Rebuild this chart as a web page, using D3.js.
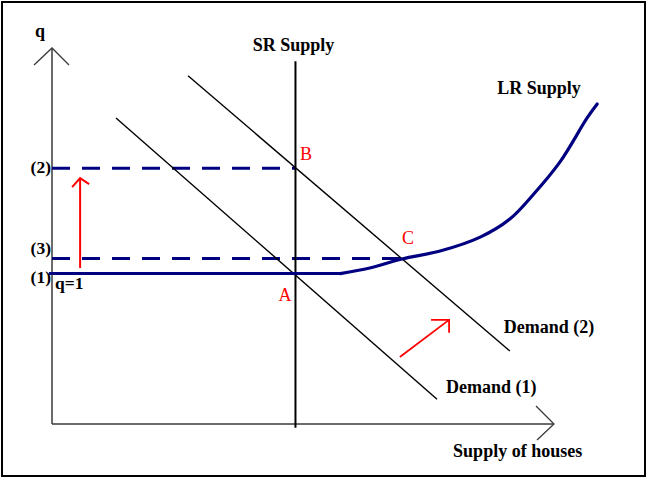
<!DOCTYPE html>
<html>
<head>
<meta charset="utf-8">
<script src="https://cdn.jsdelivr.net/npm/d3@7"></script>
<style>
  html, body { margin: 0; padding: 0; background: #fff; }
  svg { display: block; }
  text { font-family: "Liberation Serif", "Times New Roman", serif; }
</style>
</head>
<body>
<svg id="chart" width="647" height="478"></svg>
<script>
// ---- data (diagram units: x = quantity of houses 0..100, y = q 0..100) ----
const qLevels = [
  { label: "(1)", value: 40 },
  { label: "(3)", value: 44 },
  { label: "(2)", value: 68 }
];
const srSupplyX = 48.5;
const srSupplyRange = [-1, 96.5];
const demand1 = [[12.75, 81.4], [76.7, 6.6]];
const demand2 = [[27.1, 92.6], [91.2, 19.4]];
const lrSupplyFlat = [[-0.6, 40], [57.4, 40]];
const lrSupplyCurve = [[57.4, 40], [63.3, 41.5], [69.7, 43.9], [77.3, 46.0], [85.3, 49.7],
                       [91.2, 54.5], [95.8, 60.9], [101.2, 69.7], [106.6, 81.4], [108.6, 85.1]];
const dashed2 = [[0, 68], [48.5, 68]];
const dashed3 = [[0, 44], [69.7, 44]];
const arrowUp = [[5.6, 41.5], [5.6, 65.4]];
const arrowShift = [[69.3, 17.8], [79.1, 27.7]];
const pointLabels = [
  { text: "A", x: 45.1, y: 32.8 },
  { text: "B", x: 49.4, y: 70.2 },
  { text: "C", x: 69.7, y: 47.9 }
];
const curveLabels = [
  { text: "SR Supply", x: 40.0, y: 99.2 },
  { text: "LR Supply", x: 88.7, y: 87.8 },
  { text: "Demand (2)", x: 90.0, y: 24.2 },
  { text: "Demand (1)", x: 78.5, y: 8.2 },
  { text: "Supply of houses", x: 79.9, y: -8.8 }
];

// ---- scales ----
const x = d3.scaleLinear().domain([0, 100]).range([52, 554]);
const y = d3.scaleLinear().domain([0, 100]).range([424, 48]);

const svg = d3.select("#chart");
const navy = "#000080", red = "#ff0000";

// frame
svg.append("rect").attr("x", 0).attr("y", 0).attr("width", 647).attr("height", 478).attr("fill", "#fff");
svg.append("rect").attr("x", 2).attr("y", 2).attr("width", 643).attr("height", 474)
  .attr("fill", "none").attr("stroke", "#000").attr("stroke-width", 2);

const line = d3.line().x(d => x(d[0])).y(d => y(d[1]));

// axes
const axisColor = "#3a3a3a";
svg.append("path").attr("d", line([[0, 0], [0, 100]])).attr("stroke", axisColor).attr("stroke-width", 1.5).attr("fill", "none");
svg.append("path").attr("d", line([[0, 0], [100, 0]])).attr("stroke", axisColor).attr("stroke-width", 1.5).attr("fill", "none");
// axis arrowheads
svg.append("path")
  .attr("d", `M${x(0) - 18},${y(100) + 17} L${x(0)},${y(100)} L${x(0) + 17},${y(100) + 17}`)
  .attr("stroke", axisColor).attr("stroke-width", 1.3).attr("fill", "none");
svg.append("path")
  .attr("d", `M${x(100) - 18},${y(0) - 18} L${x(100)},${y(0)} L${x(100) - 17},${y(0) + 16}`)
  .attr("stroke", axisColor).attr("stroke-width", 1.3).attr("fill", "none");

svg.append("text").attr("x", 35).attr("y", 37).attr("font-size", 18).attr("font-weight", "bold").text("q");

// dashed levels
[dashed2, dashed3].forEach(d => {
  svg.append("path").attr("d", line(d)).attr("stroke", navy).attr("stroke-width", 3)
    .attr("stroke-dasharray", "18,12").attr("fill", "none");
});

// demand curves
[demand1, demand2].forEach(d => {
  svg.append("path").attr("d", line(d)).attr("stroke", "#000").attr("stroke-width", 1.4).attr("fill", "none");
});

// SR supply
svg.append("path").attr("d", line([[srSupplyX, srSupplyRange[0]], [srSupplyX, srSupplyRange[1]]]))
  .attr("stroke", "#000").attr("stroke-width", 2).attr("fill", "none");

// LR supply
svg.append("path").attr("d", line(lrSupplyFlat)).attr("stroke", navy).attr("stroke-width", 3).attr("fill", "none");
svg.append("path").attr("d", line.curve(d3.curveCatmullRom)(lrSupplyCurve))
  .attr("stroke", navy).attr("stroke-width", 3.2).attr("fill", "none").attr("stroke-linecap", "round");
line.curve(d3.curveLinear);

// red arrows
svg.append("path").attr("d", line(arrowUp)).attr("stroke", red).attr("stroke-width", 2).attr("fill", "none");
const tu = [x(arrowUp[1][0]), y(arrowUp[1][1])];
svg.append("path").attr("d", `M${tu[0] - 8},${tu[1] + 9} L${tu[0]},${tu[1]} L${tu[0] + 9},${tu[1] + 6}`)
  .attr("stroke", red).attr("stroke-width", 2).attr("fill", "none");
svg.append("path").attr("d", line(arrowShift)).attr("stroke", red).attr("stroke-width", 1.8).attr("fill", "none");
const ts = [x(arrowShift[1][0]), y(arrowShift[1][1])];
svg.append("path").attr("d", `M${ts[0] - 18},${ts[1]} L${ts[0]},${ts[1]} L${ts[0]},${ts[1] + 13}`)
  .attr("stroke", red).attr("stroke-width", 1.8).attr("fill", "none");

// level labels
qLevels.forEach(d => {
  svg.append("text").attr("x", x(0) - 1).attr("y", y(d.value) + (d.label === "(1)" ? 9 : (d.label === "(3)" ? -5 : 5)))
    .attr("text-anchor", "end").attr("font-size", 17.5).attr("font-weight", "bold").text(d.label);
});
svg.append("text").attr("x", x(0) + 3).attr("y", y(40) + 15).attr("font-size", 17.5).attr("font-weight", "bold").text("q=1");

// point labels
pointLabels.forEach(d => {
  svg.append("text").attr("x", x(d.x)).attr("y", y(d.y)).attr("font-size", 18).attr("fill", red).text(d.text);
});

// curve labels
curveLabels.forEach(d => {
  svg.append("text").attr("x", x(d.x)).attr("y", y(d.y)).attr("font-size", 18).attr("font-weight", "bold").text(d.text);
});
</script>
</body>
</html>
